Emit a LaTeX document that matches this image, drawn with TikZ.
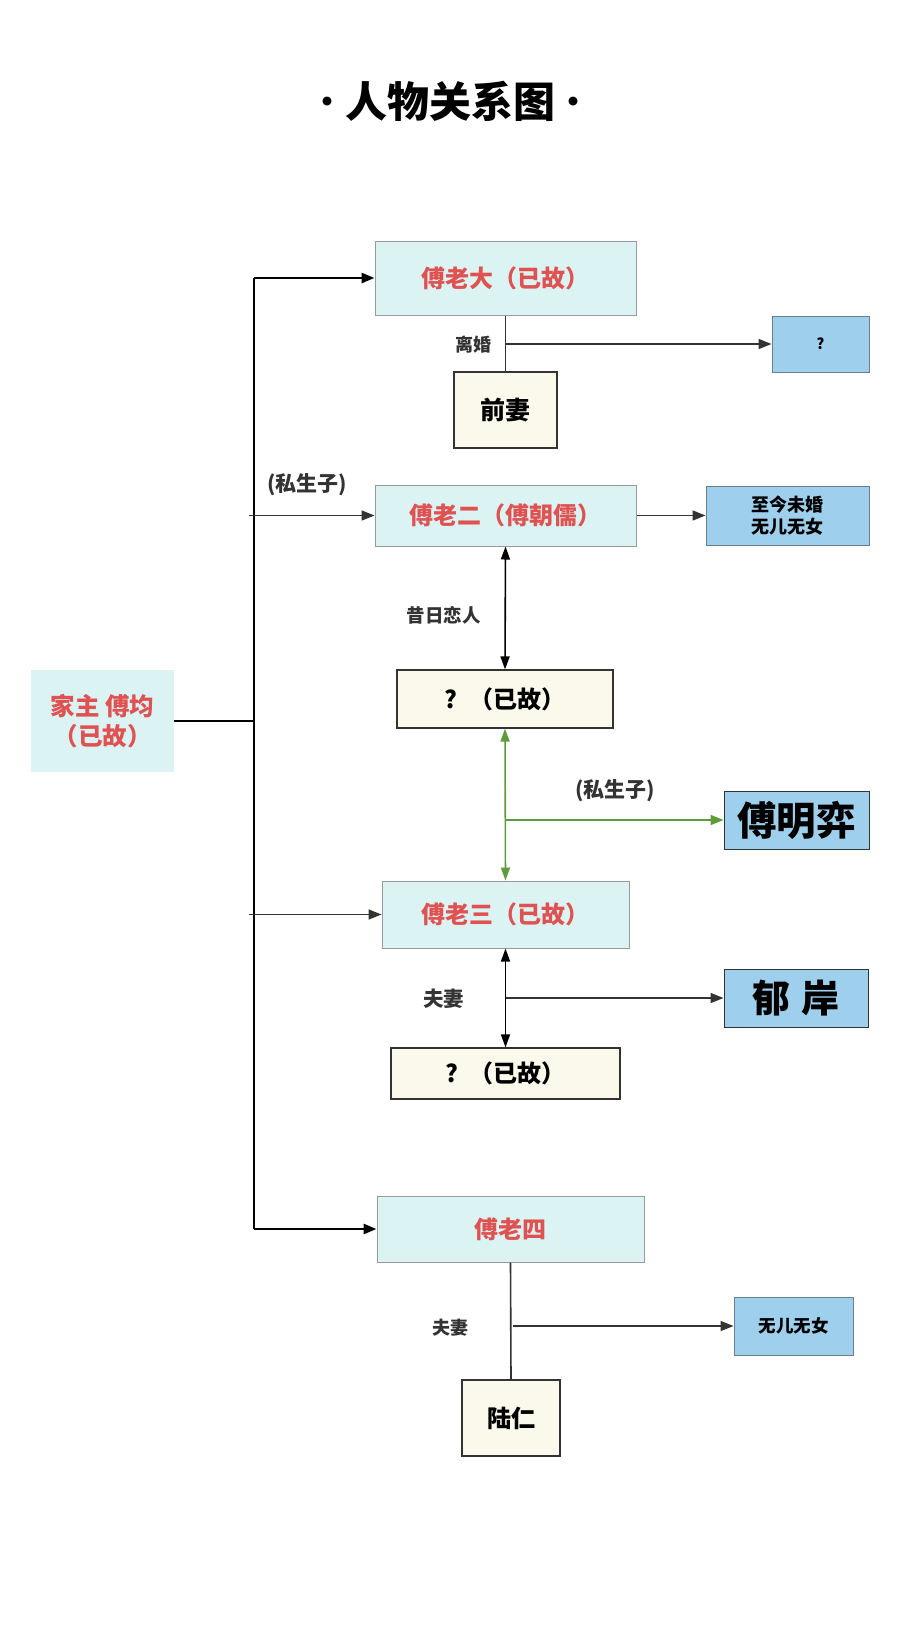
\documentclass[tikz,border=0pt]{standalone}
\usepackage{fontspec}
\setmainfont{Noto Sans CJK SC}
\usetikzlibrary{arrows.meta}
\definecolor{cyanfill}{HTML}{DBF3F3}
\definecolor{boxgray}{HTML}{9A9A9A}
\definecolor{redtext}{HTML}{E05252}
\definecolor{bluefill}{HTML}{9ECFEC}
\definecolor{blueborder}{HTML}{6E7F8C}
\definecolor{creamfill}{HTML}{FAF9EB}
\definecolor{darkline}{HTML}{333333}
\definecolor{greenline}{HTML}{5E9B3A}
\begin{document}
\begin{tikzpicture}[x=1pt,y=-1pt,
  fsz/.style={font=\bfseries\fontsize{#1pt}{\dimexpr #1pt*5/4\relax}\selectfont},
  person/.style={draw=boxgray, line width=1pt, fill=cyanfill, inner sep=0pt, align=center, text=redtext, fsz=24},
  headbox/.style={fill=cyanfill, inner sep=0pt, align=center, text=redtext, fsz=24.5},
  cream/.style={draw=darkline, line width=1.2pt, fill=creamfill, inner sep=0pt, align=center, text=black, fsz=24},
  bluebox/.style={draw=blueborder, line width=1pt, fill=bluefill, inner sep=0pt, align=center, text=black, fsz=18},
  rel/.style={text=darkline, inner sep=0pt, fsz=18.5},
  tip/.style={-{Triangle[length=13pt,width=10pt]}},
  dtip/.style={{Triangle[length=13pt,width=9pt]}-{Triangle[length=13pt,width=9pt]}},
  thickline/.style={line width=2.6pt, black},
  thinline/.style={line width=1.6pt, darkline},
]
\useasboundingbox (0,0) rectangle (900,1630);
\fill[white] (0,0) rectangle (900,1630);

% title
\node[fsz=42, text=black] (title) at (450,101) {{\mdseries·}\hspace{-3pt}人物关系图\hspace{-3pt}{\mdseries·}};

% nodes
\node[headbox, minimum width=143pt, minimum height=102pt] (jz) at (102.5,721) {家主 傅均\\（已故）};
\node[person, minimum width=261pt, minimum height=74pt] (l1) at (505.5,278) {傅老大（已故）};
\node[bluebox, fsz=15, minimum width=97pt, minimum height=56pt] (q1) at (820.5,344) {?};
\node[cream, fsz=25, minimum width=103pt, minimum height=76pt] (qi) at (505.5,410) {前妻};
\node[person, minimum width=261pt, minimum height=61pt] (l2) at (505.5,515.5) {傅老二（傅朝儒）};
\node[bluebox, minimum width=163pt, minimum height=59pt] (n2) at (787.5,515.5) {至今未婚\\无儿无女};
\node[cream, minimum width=216pt, minimum height=58pt] (p1) at (505,699) {?\hspace{12pt}（已故）};
\node[bluebox, fsz=39.5, draw=darkline, minimum width=145pt, minimum height=58pt] (mx) at (796.5,820) {傅明弈};
\node[person, minimum width=247pt, minimum height=67pt] (l3) at (505.5,914.5) {傅老三（已故）};
\node[bluebox, fsz=38, draw=darkline, minimum width=144pt, minimum height=58pt] (ya) at (796,998) {郁\hspace{12pt}岸};
\node[cream, minimum width=229pt, minimum height=51pt] (p2) at (505.5,1073.5) {?\hspace{12pt}（已故）};
\node[person, minimum width=267pt, minimum height=66pt] (l4) at (510.5,1229) {傅老四};
\node[bluebox, fsz=17.5, minimum width=119pt, minimum height=58pt] (n4) at (793.5,1326) {无儿无女};
\node[cream, minimum width=98pt, minimum height=76pt] (lr) at (511,1418) {陆仁};

% relation labels
\node[rel, fsz=18] (lbl1) at (473,345) {离婚};
\node[rel, fsz=21] (lbl2) at (307,485) {(私生子)};
\node[rel] (lbl3) at (443.5,615) {昔日恋人};
\node[rel, fsz=21] (lbl4) at (615,791) {(私生子)};
\node[rel, fsz=20.5] (lbl5) at (443.5,999) {夫妻};
\node[rel, fsz=18] (lbl6) at (450,1328) {夫妻};

% trunk coordinates
\coordinate (tTop) at (254,278);
\coordinate (tBot) at (254,1229);
\coordinate (tMid) at (254,721);
\coordinate (t2) at (249,515.5);
\coordinate (t3) at (249,914.5);
\coordinate (b1) at (505.5,344);
\coordinate (b3) at (505,820);
\coordinate (b4) at (505.5,998);
\coordinate (b5) at (513,1326);

% trunk
\draw[thickline] (jz.east) -- (tMid);
\draw[thickline] (tBot) -- (tTop);
\draw[thickline, tip] (tTop) -- (l1.west);
\draw[thickline, tip] (tBot) -- (l4.west);
\draw[thinline, tip] (t2) -- (l2.west);
\draw[thinline, tip] (t3) -- (l3.west);

% 傅老大
\draw[thinline] (l1.south) -- (qi.north);
\draw[thinline, tip] (b1) -- (q1.west);

% 傅老二
\draw[thinline, tip] (l2.east) -- (n2.west);
\draw[line width=1.6pt, black, dtip] (l2.south) -- (p1.north);

% green
\draw[line width=1.6pt, greenline, dtip] (p1.south) -- (l3.north);
\draw[line width=1.6pt, greenline, tip] (b3) -- (mx.west);

% 傅老三
\draw[line width=1.6pt, black, dtip] (l3.south) -- (p2.north);
\draw[thinline, tip] (b4) -- (ya.west);

% 傅老四
\draw[thinline] (l4.south) -- (lr.north);
\draw[thinline, tip] (b5) -- (n4.west);
\end{tikzpicture}
\end{document}
